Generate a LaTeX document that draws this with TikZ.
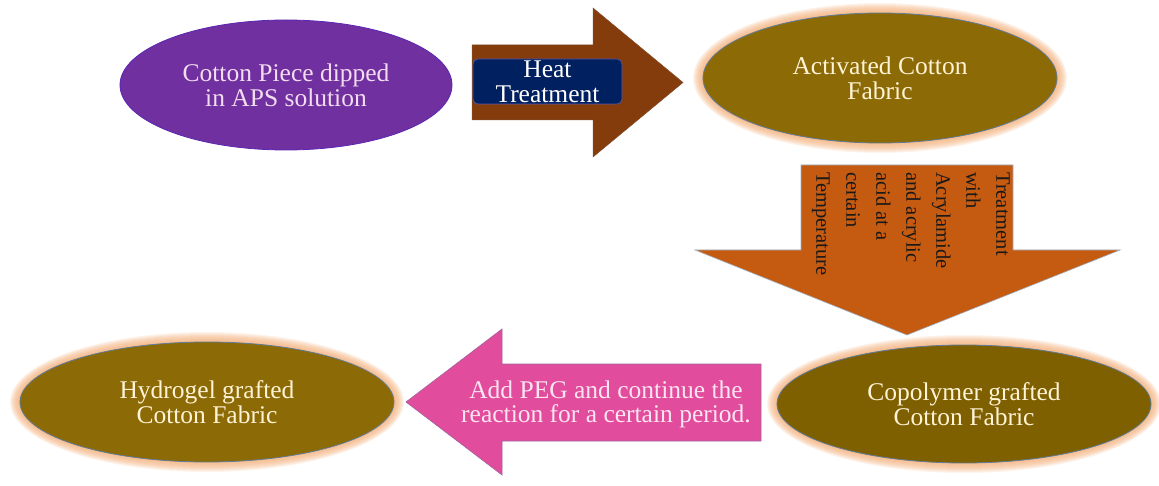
\documentclass[tikz,border=0pt]{standalone}
\usepackage{fontspec}
\setmainfont{Liberation Serif}
\usetikzlibrary{shapes.geometric}
\definecolor{purp}{HTML}{7030A0}
\definecolor{purptext}{HTML}{F2DCF0}
\definecolor{brownarrow}{HTML}{843C0C}
\definecolor{navy}{HTML}{002060}
\definecolor{olivebrown}{HTML}{8C6A05}
\definecolor{olivedark}{HTML}{7F6000}
\definecolor{cream}{HTML}{FFF3D6}
\definecolor{orangearrow}{HTML}{C55A11}
\definecolor{pinkarrow}{HTML}{E24C9D}
\definecolor{pinktext}{HTML}{FCE4F0}
\definecolor{glowcol}{HTML}{F2A970}
\definecolor{edgecol}{HTML}{5E7C9C}
\begin{document}
\begin{tikzpicture}[x=1pt,y=-1pt,
  bubble/.style={ellipse, inner sep=0pt, draw=edgecol, line width=0.8pt, align=center,
     font=\fontsize{25.5}{25}\selectfont},
  glow/.style={fill=glowcol, fill opacity=0.13}
]
\useasboundingbox (0,0) rectangle (1159,486);
% centres
\coordinate (cC) at (286,85);
\coordinate (aC) at (880,78);
\coordinate (pC) at (964,404);
\coordinate (hC) at (207,402);
% glows
\foreach \k in {10,9,...,1}{
  \fill[glow] (aC) ellipse [x radius=177pt+\k pt, y radius=65pt+\k pt];
  \fill[glow] (pC) ellipse [x radius=187pt+\k pt, y radius=59pt+\k pt];
  \fill[glow] (hC) ellipse [x radius=187pt+\k pt, y radius=60pt+\k pt];
}
% ellipses
\node[bubble, fill=purp, text=purptext, draw=purp!80!blue, minimum width=332pt, minimum height=130pt] (cotton) at (cC)
  {Cotton Piece dipped\\in APS solution};
\node[bubble, fill=olivebrown, text=cream, minimum width=354pt, minimum height=130pt] (activated) at (aC)
  {Activated Cotton\\Fabric};
\node[bubble, fill=olivedark, text=cream, minimum width=374pt, minimum height=118pt] (copolymer) at (pC)
  {Copolymer grafted\\Cotton Fabric};
\node[bubble, fill=olivebrown, text=cream, minimum width=374pt, minimum height=120pt] (hydrogel) at (hC)
  {Hydrogel grafted\\Cotton Fabric};
% brown arrow
\fill[brownarrow, draw=brownarrow!70!gray, line width=0.5pt]
  (472,45) -- (593,45) -- (593,8) -- (683,82.5) -- (593,157) -- (593,120) -- (472,120) -- cycle;
\node[draw=gray!70!blue, line width=0.6pt, fill=navy, rounded corners=5pt, minimum width=149pt, minimum height=45pt,
  inner sep=0pt, text=white, align=center, font=\fontsize{25.5}{25}\selectfont] (heat) at (547.5,81.5) {Heat\\Treatment};
% down arrow
\fill[orangearrow, draw=edgecol!60, line width=0.6pt]
  (801,165) -- (1013,165) -- (1013,250) -- (1120,250) -- (907,335) -- (695,250) -- (801,250) -- cycle;
\node[rotate=-90, anchor=north west, inner sep=0pt, align=left, text=black!90,
  font=\fontsize{20.5}{30}\selectfont] (treat) at (1010,172)
  {Treatment\\with\\Acrylamide\\and acrylic\\acid at a\\certain\\Temperature};
% pink arrow
\fill[pinkarrow, draw=edgecol!50!pinkarrow, line width=0.6pt]
  (761,364) -- (502,364) -- (502,329) -- (406,402) -- (502,475) -- (502,441) -- (761,441) -- cycle;
\node[inner sep=0pt, align=center, text=pinktext, font=\fontsize{25.5}{24}\selectfont] (peg) at (606,404)
  {Add PEG and continue the\\reaction for a certain period.};
\end{tikzpicture}
\end{document}
